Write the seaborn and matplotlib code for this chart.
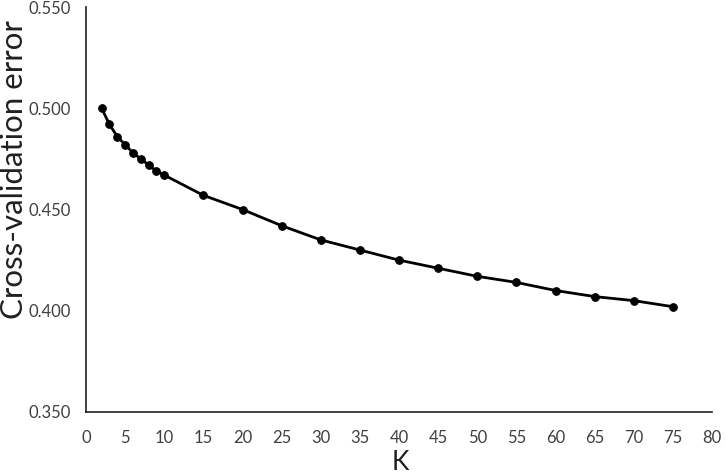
import matplotlib
matplotlib.use("Agg")
import matplotlib.pyplot as plt
import seaborn as sns
import pandas as pd

k_values = [2, 3, 4, 5, 6, 7, 8, 9, 10, 15, 20, 25, 30, 35, 40, 45, 50, 55, 60, 65, 70, 75]
cv_error = [0.500, 0.492, 0.486, 0.482, 0.478, 0.475, 0.472, 0.469, 0.467, 0.457, 0.450,
            0.442, 0.435, 0.430, 0.425, 0.421, 0.417, 0.414, 0.410, 0.407, 0.405, 0.402]
x_ticks = list(range(0, 85, 5))
y_ticks = [0.350, 0.400, 0.450, 0.500, 0.550]

df = pd.DataFrame({"K": k_values, "err": cv_error})

sns.set_style("white")
plt.rcParams['font.family'] = ['Lato', 'DejaVu Sans']

fig = plt.figure(figsize=(7.26, 4.76), dpi=100)
ax = fig.add_axes([86/726, 64/476, 626/726, 405/476])
sns.lineplot(data=df, x="K", y="err", ax=ax, color="black", linewidth=2,
             marker="o", markersize=5.5, markeredgecolor="black")

ax.set_xlim(0, 80)
ax.set_ylim(0.35, 0.55)
ax.set_xticks(x_ticks)
ax.set_yticks(y_ticks)
ax.set_yticklabels([f"{v:.3f}" for v in y_ticks])
ax.tick_params(axis="both", direction="in", length=4, width=1, color="#404040",
               labelsize=12, labelcolor="#404040")
ax.tick_params(axis="x", pad=13)
ax.tick_params(axis="y", pad=11)
for s in ["top", "right"]:
    ax.spines[s].set_visible(False)
for s in ["left", "bottom"]:
    ax.spines[s].set_color("#202020")
    ax.spines[s].set_linewidth(1.2)
ax.set_xlabel("K", fontsize=19, color="#202020")
ax.xaxis.set_label_coords((400 - 86) / 626, -(463 - 412) / 405)
ax.xaxis.label.set_verticalalignment("center")
ax.set_ylabel("Cross-validation error", fontsize=22.5, color="#202020")
ax.yaxis.set_label_coords((14 - 86) / 626, (412 - 170) / 405)
ax.yaxis.label.set_verticalalignment("center")

fig.savefig("out.png", dpi=100)
